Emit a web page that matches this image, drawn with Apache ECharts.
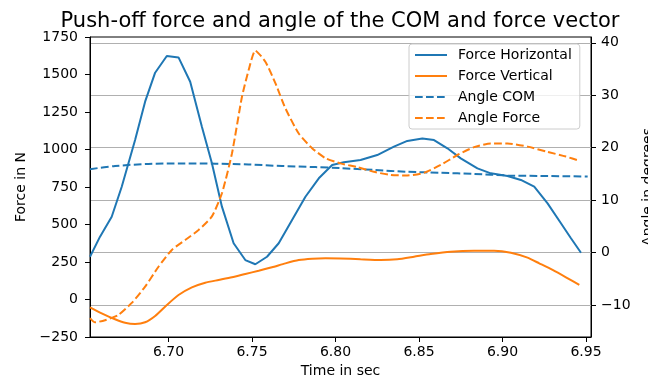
<!DOCTYPE html>
<html>
<head>
<meta charset="utf-8">
<script src="https://cdn.jsdelivr.net/npm/echarts@6/dist/echarts.min.js"></script>
<style>
html, body { margin: 0; padding: 0; background: #fff; }
#main { width: 648px; height: 379px; }
</style>
</head>
<body>
<div id="main"></div>
<script>
var chartTitle = 'Push-off force and angle of the COM and force vector';

// Force Horizontal (N)
var timeFH = [6.653, 6.659, 6.666, 6.672, 6.680, 6.686, 6.692, 6.699, 6.706, 6.713, 6.720, 6.726, 6.732, 6.739, 6.746, 6.752, 6.759, 6.766, 6.774, 6.782, 6.790, 6.798, 6.805, 6.815, 6.825, 6.835, 6.843, 6.852, 6.859, 6.867, 6.875, 6.885, 6.893, 6.903, 6.911, 6.919, 6.927, 6.935, 6.941, 6.947];
var forceH = [285, 419, 552, 752, 1063, 1319, 1512, 1623, 1614, 1452, 1152, 908, 619, 375, 263, 235, 285, 375, 530, 685, 808, 897, 915, 930, 963, 1019, 1057, 1074, 1063, 1008, 941, 874, 841, 823, 797, 752, 641, 508, 408, 312];

// Force Vertical (N)
var timeFV = [6.653, 6.660, 6.668, 6.674, 6.680, 6.686, 6.692, 6.699, 6.706, 6.714, 6.722, 6.730, 6.738, 6.746, 6.754, 6.762, 6.770, 6.778, 6.786, 6.794, 6.803, 6.815, 6.827, 6.837, 6.847, 6.857, 6.869, 6.883, 6.895, 6.905, 6.915, 6.922, 6.930, 6.938, 6.946];
var forceV = [-52, -92, -132, -155, -163, -152, -110, -37, 30, 81, 112, 130, 148, 170, 192, 215, 241, 263, 272, 275, 274, 268, 263, 268, 285, 303, 319, 325, 325, 312, 279, 241, 197, 148, 97];

// Angle COM (deg)
var timeAC = [6.653, 6.668, 6.688, 6.708, 6.728, 6.748, 6.768, 6.788, 6.803, 6.823, 6.843, 6.863, 6.883, 6.903, 6.923, 6.951];
var angleCOM = [15.9, 16.5, 16.9, 17.0, 16.95, 16.8, 16.5, 16.3, 16.1, 15.75, 15.4, 15.2, 15.0, 14.7, 14.6, 14.5];

// Angle Force (deg)
var timeAF = [6.653, 6.656, 6.662, 6.670, 6.678, 6.686, 6.694, 6.702, 6.710, 6.718, 6.726, 6.732, 6.738, 6.744, 6.748, 6.752, 6.758, 6.764, 6.770, 6.778, 6.786, 6.794, 6.803, 6.813, 6.823, 6.833, 6.843, 6.853, 6.863, 6.873, 6.883, 6.893, 6.903, 6.915, 6.927, 6.938, 6.946];
var angleForce = [-12.5, -13.3, -12.9, -11.9, -9.6, -6.5, -2.7, 0.5, 2.4, 4.3, 6.9, 11.3, 18.9, 29.7, 34.8, 38.5, 36.4, 32.3, 27.5, 22.7, 19.9, 18.0, 17.0, 16.3, 15.4, 14.8, 14.7, 15.2, 16.7, 18.6, 20.1, 20.8, 20.8, 20.2, 19.2, 18.3, 17.5];

var timeTicks = [6.70, 6.75, 6.80, 6.85, 6.90, 6.95];
var angleTicks = [-10, 0, 10, 20, 30, 40];

function pairs(xs, ys) {
    return xs.map(function(x, i) { return [x, ys[i]]; });
}
function minus(v) {
    return String(v).replace('-', '\u2212');
}

var font = 'DejaVu Sans';
var blue = '#1f77b4';
var orange = '#ff7f0e';
var dash = [7.7, 3.3];

var myChart = echarts.init(document.getElementById('main'));

var option = {
    animation: false,
    textStyle: { fontFamily: font, color: '#000' },
    title: {
        text: chartTitle,
        left: 340,
        top: 11,
        padding: 0,
        textAlign: 'center',
        textStyle: { fontFamily: font, fontSize: 21, fontWeight: 'normal', color: '#000' }
    },
    legend: {
        orient: 'vertical',
        left: 409,
        top: 44,
        padding: [4, 8, 4, 5],
        itemWidth: 32,
        itemHeight: 14,
        itemGap: 7,
        borderColor: '#cccccc',
        borderWidth: 1,
        borderRadius: 3,
        backgroundColor: 'rgba(255,255,255,0.8)',
        itemStyle: { opacity: 0 },
        textStyle: { fontFamily: font, fontSize: 14, color: '#000', padding: [0, 0, 0, 6] },
        data: ['Force Horizontal', 'Force Vertical', 'Angle COM', 'Angle Force']
    },
    grid: {
        left: 90,
        top: 37,
        width: 501,
        height: 300,
        show: true,
        borderColor: '#000',
        borderWidth: 1,
        outerBoundsMode: 'none'
    },
    xAxis: {
        type: 'value',
        min: 6.653,
        max: 6.953,
        name: 'Time in sec',
        nameLocation: 'middle',
        nameGap: 26,
        nameTextStyle: { fontFamily: font, fontSize: 14, color: '#000' },
        axisLine: { show: true, onZero: false, lineStyle: { color: '#000', width: 1 } },
        axisTick: { show: true, length: 5, lineStyle: { color: '#000' }, customValues: timeTicks },
        axisLabel: {
            fontFamily: font, fontSize: 14, color: '#000', margin: 8,
            customValues: timeTicks,
            formatter: function(v) { return v.toFixed(2); }
        },
        splitLine: { show: false }
    },
    yAxis: [{
        type: 'value',
        min: -250,
        max: 1750,
        interval: 250,
        name: 'Force in N',
        nameLocation: 'middle',
        nameRotate: 90,
        nameGap: 61,
        nameTextStyle: { fontFamily: font, fontSize: 14, color: '#000' },
        axisLine: { show: true, lineStyle: { color: '#000', width: 1 } },
        axisTick: { show: true, length: 5, lineStyle: { color: '#000' } },
        axisLabel: {
            fontFamily: font, fontSize: 14, color: '#000', margin: 12,
            formatter: function(v) { return minus(v); }
        },
        splitLine: { show: false }
    }, {
        type: 'value',
        min: -16.1,
        max: 41.1,
        position: 'right',
        name: 'Angle in degrees',
        nameLocation: 'middle',
        nameRotate: 90,
        nameGap: 44,
        nameTextStyle: { fontFamily: font, fontSize: 14, color: '#000' },
        axisLine: { show: true, lineStyle: { color: '#000', width: 1 } },
        axisTick: { show: true, length: 5, lineStyle: { color: '#000' }, customValues: angleTicks },
        axisLabel: {
            fontFamily: font, fontSize: 14, color: '#000', margin: 10,
            customValues: angleTicks,
            formatter: function(v) { return minus(v); }
        },
        splitLine: { show: true, lineStyle: { color: '#b0b0b0', width: 1 } }
    }],
    series: [{
        name: 'Force Horizontal',
        type: 'line',
        yAxisIndex: 0,
        data: pairs(timeFH, forceH),
        showSymbol: false,
        symbol: 'none',
        color: blue,
        lineStyle: { color: blue, width: 2 }
    }, {
        name: 'Force Vertical',
        type: 'line',
        yAxisIndex: 0,
        data: pairs(timeFV, forceV),
        showSymbol: false,
        symbol: 'none',
        smooth: 0.2,
        color: orange,
        lineStyle: { color: orange, width: 2 }
    }, {
        name: 'Angle COM',
        type: 'line',
        yAxisIndex: 1,
        data: pairs(timeAC, angleCOM),
        showSymbol: false,
        symbol: 'none',
        smooth: 0.3,
        color: blue,
        lineStyle: { color: blue, width: 2, type: dash }
    }, {
        name: 'Angle Force',
        type: 'line',
        yAxisIndex: 1,
        data: pairs(timeAF, angleForce),
        showSymbol: false,
        symbol: 'none',
        smooth: 0.2,
        color: orange,
        lineStyle: { color: orange, width: 2, type: dash }
    }]
};

myChart.setOption(option);
</script>
</body>
</html>
